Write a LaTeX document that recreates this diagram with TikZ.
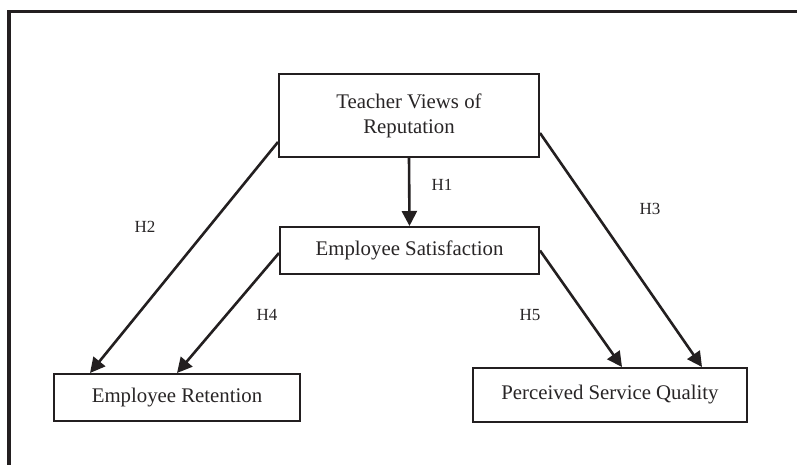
\documentclass[tikz,border=0pt]{standalone}
\usepackage{fontspec}
\setmainfont{Liberation Serif}
\usetikzlibrary{arrows.meta}
\definecolor{ink}{RGB}{35,31,32}
\definecolor{txt}{RGB}{40,37,38}
\begin{document}
\begin{tikzpicture}[x=1pt,y=-1pt,
  box/.style={draw=ink,line width=2pt,fill=white,align=center,text=txt,
    font=\fontsize{20.8}{25}\selectfont,inner sep=0pt},
  hyp/.style={text=txt,font=\fontsize{17}{20}\selectfont,inner sep=0pt},
  link/.style={draw=ink,line width=2.6pt,-{Triangle[length=15pt,width=15pt]}}]
\useasboundingbox (0,0) rectangle (797,464);
\clip (0,0) rectangle (797,464);
\fill[white] (0,0) rectangle (797,464);
% outer frame
\draw[ink,line width=3.6pt] (9,11.5) rectangle (820,490);
% constructs
\node[box,minimum width=260pt,minimum height=83pt] (T) at (409,115.5) {Teacher Views of\\Reputation};
\node[box,minimum width=259pt,minimum height=47pt] (S) at (409.5,250.5) {Employee Satisfaction};
\node[box,minimum width=246pt,minimum height=47pt] (R) at (177,397.5) {Employee Retention};
\node[box,minimum width=274pt,minimum height=54pt] (P) at (610,395) {Perceived Service Quality};
% hypothesised paths
\draw[link] (T.south) -- (S.north);
\draw[link] ([yshift=-26.5pt]T.west) -- ([xshift=37pt]R.north west);
\draw[link] ([yshift=-17.5pt]T.east) -- ([xshift=92pt]P.north);
\draw[link] ([yshift=-2.5pt]S.west) -- (R.north);
\draw[link] (S.east) -- ([xshift=12pt]P.north);
% path labels
\node[hyp] (h1) at (442,185) {H1};
\node[hyp] (h2) at (145,227) {H2};
\node[hyp] (h3) at (650,209) {H3};
\node[hyp] (h4) at (267,315) {H4};
\node[hyp] (h5) at (530,315) {H5};
\end{tikzpicture}
\end{document}
